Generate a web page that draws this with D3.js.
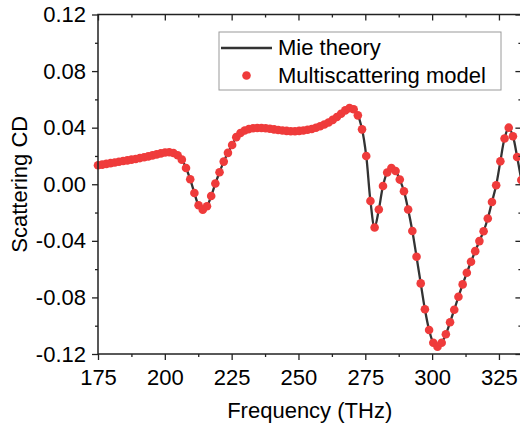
<!DOCTYPE html>
<html>
<head>
<meta charset="utf-8">
<script src="https://cdn.jsdelivr.net/npm/d3@7"></script>
<style>
  body { margin: 0; background: #fff; }
  text { font-family: "Liberation Sans", Arial, sans-serif; fill: #000; }
</style>
</head>
<body>
<div id="viz"></div>
<script>
// frequency samples (THz)
var freq = [175.00, 176.57, 178.14, 179.70, 181.27, 182.84, 184.41, 185.98, 187.54, 189.11,
  190.68, 192.25, 193.82, 195.38, 196.95, 198.52, 200.09, 201.66, 203.22, 204.79,
  206.36, 207.93, 209.50, 211.06, 212.63, 214.20, 215.77, 217.34, 218.90, 220.47,
  222.04, 223.61, 225.18, 226.74, 228.31, 229.88, 231.45, 233.02, 234.58, 236.15,
  237.72, 239.29, 240.86, 242.42, 243.99, 245.56, 247.13, 248.70, 250.26, 251.83,
  253.40, 254.97, 256.54, 258.10, 259.67, 261.24, 262.81, 264.38, 265.94, 267.51,
  269.08, 270.65, 272.22, 273.78, 275.35, 276.92, 278.49, 280.06, 281.62, 283.19,
  284.76, 286.33, 287.90, 289.46, 291.03, 292.60, 294.17, 295.74, 297.30, 298.87,
  300.44, 302.01, 303.58, 305.14, 306.71, 308.28, 309.85, 311.42, 312.98, 314.55,
  316.12, 317.69, 319.26, 320.82, 322.39, 323.96, 325.53, 327.10, 328.66, 330.23,
  331.80, 333.37];

// multiscattering model (dots)
var multiScat = [0.0134, 0.0139, 0.0144, 0.0149, 0.0154, 0.0159, 0.0164, 0.0169, 0.0174, 0.0179,
  0.0185, 0.0191, 0.0197, 0.0204, 0.0211, 0.0218, 0.0224, 0.0226, 0.0221, 0.0205,
  0.0174, 0.0115, 0.0035, -0.0062, -0.0148, -0.0180, -0.0155, -0.0083, 0.0005, 0.0085,
  0.0160, 0.0222, 0.0277, 0.0333, 0.0362, 0.0380, 0.0390, 0.0396, 0.0398, 0.0398,
  0.0396, 0.0392, 0.0388, 0.0384, 0.0380, 0.0377, 0.0375, 0.0375, 0.0377, 0.0380,
  0.0385, 0.0391, 0.0399, 0.0410, 0.0422, 0.0437, 0.0455, 0.0475, 0.0498, 0.0522,
  0.0538, 0.0530, 0.0487, 0.0388, 0.0200, -0.0118, -0.0306, -0.0179, -0.0012, 0.0083,
  0.0115, 0.0094, 0.0033, -0.0049, -0.0179, -0.0331, -0.0513, -0.0701, -0.0884, -0.1030,
  -0.1120, -0.1148, -0.1120, -0.1060, -0.0976, -0.0887, -0.0795, -0.0708, -0.0626, -0.0548,
  -0.0473, -0.0402, -0.0332, -0.0242, -0.0125, -0.0007, 0.0162, 0.0323, 0.0400, 0.0339,
  0.0193, 0.0030];

// Mie theory curve sampled on the same grid (agrees with the model)
var mieTheory = multiScat.slice();

var xMajor = [175, 200, 225, 250, 275, 300, 325];
var xMinor = [187.5, 212.5, 237.5, 262.5, 287.5, 312.5];
var yMajor = [-0.12, -0.08, -0.04, 0.00, 0.04, 0.08, 0.12];
var yMinor = [-0.10, -0.06, -0.02, 0.02, 0.06, 0.10];
var seriesNames = ['Mie theory', 'Multiscattering model'];

var W = 520, H = 430;
var pLeft = 98, pTop = 14.5, pRight = 521.4, pBottom = 354;
var fontSize = 22;

var svg = d3.select('#viz').append('svg')
  .attr('width', W).attr('height', H);

var x = d3.scaleLinear().domain([175, 333.4]).range([pLeft, pRight]);
var y = d3.scaleLinear().domain([-0.12, 0.12]).range([pBottom, pTop]);

var mie = freq.map(function (f, i) { return { f: f, v: mieTheory[i] }; });
var pts = freq.map(function (f, i) { return { f: f, v: multiScat[i] }; });

var line = d3.line()
  .x(function (d) { return x(d.f); })
  .y(function (d) { return y(d.v); })
  .curve(d3.curveCatmullRom);

svg.append('path')
  .datum(mie)
  .attr('fill', 'none')
  .attr('stroke', '#333')
  .attr('stroke-width', 2.3)
  .attr('d', line);

svg.append('g').selectAll('circle')
  .data(pts).enter().append('circle')
  .attr('cx', function (d) { return x(d.f); })
  .attr('cy', function (d) { return y(d.v); })
  .attr('r', 4.3)
  .attr('fill', '#ef3b3b');

// frame
svg.append('rect')
  .attr('x', pLeft).attr('y', pTop)
  .attr('width', pRight - pLeft).attr('height', pBottom - pTop)
  .attr('fill', 'none').attr('stroke', '#222').attr('stroke-width', 1.5);

function styleAxis(g) {
  g.select('.domain').remove();
  g.selectAll('line').attr('stroke', '#222').attr('stroke-width', 1.3);
  g.selectAll('text').attr('font-size', fontSize)
    .attr('font-family', '"Liberation Sans", Arial, sans-serif').attr('fill', '#000');
}

var fmtY = function (d) { return d3.format('.2f')(d).replace('\u2212', '-'); };

// bottom (ticks out)
svg.append('g').attr('transform', 'translate(0,' + pBottom + ')')
  .call(d3.axisBottom(x).tickValues(xMajor).tickSize(6).tickPadding(9).tickFormat(d3.format('d')))
  .call(styleAxis);
svg.append('g').attr('transform', 'translate(0,' + pBottom + ')')
  .call(d3.axisBottom(x).tickValues(xMinor).tickSize(3).tickFormat(''))
  .call(styleAxis);

// top (ticks in)
svg.append('g').attr('transform', 'translate(0,' + pTop + ')')
  .call(d3.axisTop(x).tickValues(xMajor).tickSize(-6).tickFormat(''))
  .call(styleAxis);
svg.append('g').attr('transform', 'translate(0,' + pTop + ')')
  .call(d3.axisTop(x).tickValues(xMinor).tickSize(-3).tickFormat(''))
  .call(styleAxis);

// left (ticks out)
svg.append('g').attr('transform', 'translate(' + pLeft + ',0)')
  .call(d3.axisLeft(y).tickValues(yMajor).tickSize(6).tickPadding(6).tickFormat(fmtY))
  .call(styleAxis);
svg.append('g').attr('transform', 'translate(' + pLeft + ',0)')
  .call(d3.axisLeft(y).tickValues(yMinor).tickSize(3).tickFormat(''))
  .call(styleAxis);

// right (ticks in)
svg.append('g').attr('transform', 'translate(' + pRight + ',0)')
  .call(d3.axisRight(y).tickValues(yMajor).tickSize(-6).tickFormat(''))
  .call(styleAxis);
svg.append('g').attr('transform', 'translate(' + pRight + ',0)')
  .call(d3.axisRight(y).tickValues(yMinor).tickSize(-3).tickFormat(''))
  .call(styleAxis);

// axis titles
svg.append('text')
  .attr('x', (pLeft + pRight) / 2).attr('y', 418)
  .attr('text-anchor', 'middle').attr('font-size', fontSize)
  .text('Frequency (THz)');

svg.append('text')
  .attr('transform', 'translate(27,' + ((pTop + pBottom) / 2) + ') rotate(-90)')
  .attr('text-anchor', 'middle').attr('font-size', fontSize)
  .text('Scattering CD');

// legend
var lg = svg.append('g');
lg.append('rect')
  .attr('x', 219).attr('y', 32).attr('width', 282).attr('height', 58)
  .attr('fill', '#fff').attr('stroke', '#9a9a9a').attr('stroke-width', 1);
lg.append('line')
  .attr('x1', 221).attr('x2', 272).attr('y1', 48).attr('y2', 48)
  .attr('stroke', '#333').attr('stroke-width', 2.3);
lg.append('circle')
  .attr('cx', 246.5).attr('cy', 75.5).attr('r', 4.3).attr('fill', '#ef3b3b');
lg.append('text').attr('x', 278).attr('y', 55).attr('font-size', fontSize).text(seriesNames[0]);
lg.append('text').attr('x', 278).attr('y', 83).attr('font-size', fontSize).text(seriesNames[1]);
</script>
</body>
</html>
